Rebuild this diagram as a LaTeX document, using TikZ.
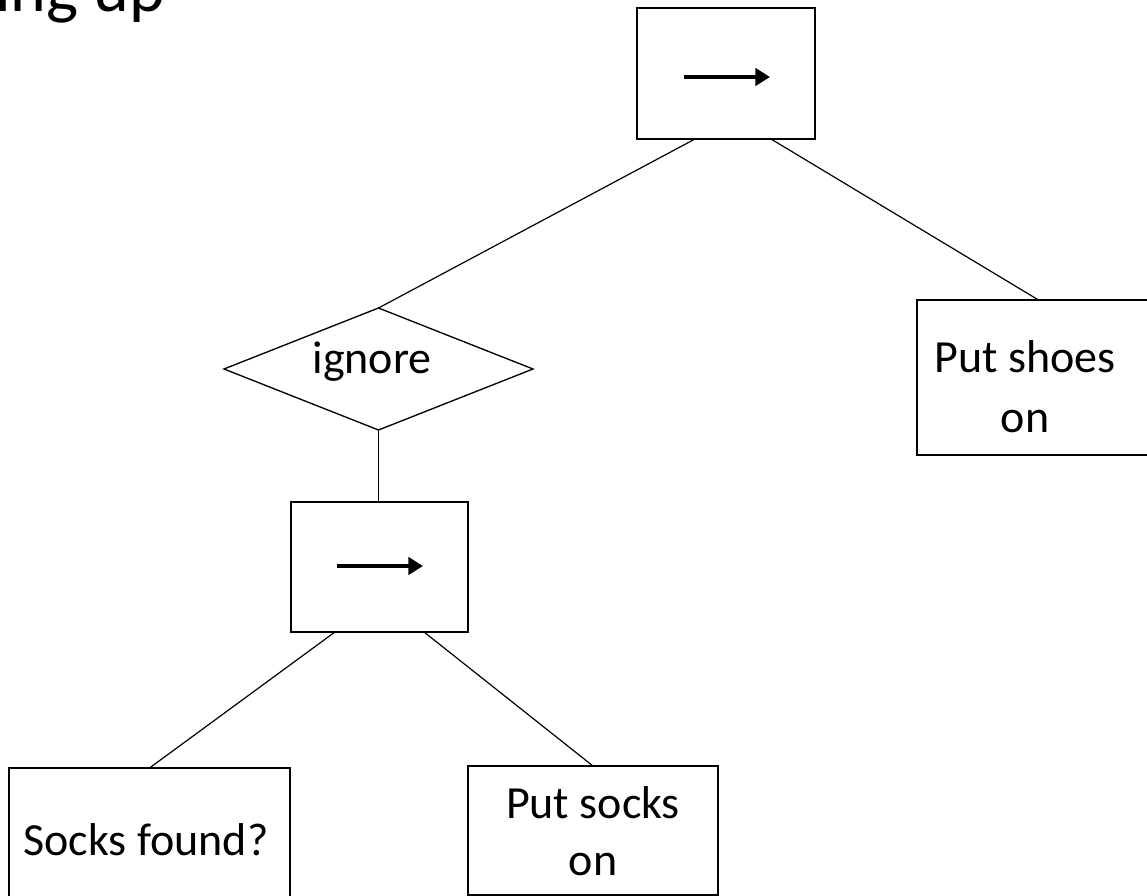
\documentclass[tikz,border=0pt]{standalone}
\usepackage{fontspec}
\setmainfont{Carlito}
\usetikzlibrary{shapes.geometric,arrows.meta}

\begin{document}
\begin{tikzpicture}[x=0.75pt,y=-0.75pt,
  seqbox/.style={draw, line width=1pt, outer sep=0pt, inner sep=0pt},
  decision/.style={draw, shape=diamond, line width=1pt, outer sep=0pt, inner sep=0pt,
    minimum width=231.75pt, minimum height=91.5pt},
  wire/.style={line width=0.9pt},
  seqarrow/.style={line width=3pt, -{Triangle[length=11pt,width=13pt]}},
  lbl/.style={inner sep=0pt, anchor=base, font=\fontsize{34.5pt}{42.75pt}\selectfont},
]
\useasboundingbox (0,0) rectangle (1147,896);

% title, running off the top-left corner
\node[inner sep=0pt, anchor=base west, font=\fontsize{51pt}{60pt}\selectfont]
  (title) at (-5,11) {ing up};

% boxes of the tree
\node[seqbox, minimum width=133.5pt, minimum height=98.25pt] (top) at (726,73.5) {};
\node[decision] (ign) at (378.5,369) {};
\node[seqbox, minimum width=182.25pt, minimum height=116.25pt] (shoes) at (1038.5,377.5) {};
\node[seqbox, minimum width=132.75pt, minimum height=97.5pt] (seq) at (379.5,567) {};
\node[seqbox, minimum width=210.75pt, minimum height=114pt] (found) at (149.5,844) {};
\node[seqbox, minimum width=187.5pt, minimum height=96.75pt] (socks) at (593,830.5) {};

% sequence arrows
\coordinate (a1) at ([shift={(-42,3.5)}]top.center);
\coordinate (a2) at ([shift={(44,3.5)}]top.center);
\draw[seqarrow] (a1) -- (a2);
\coordinate (b1) at ([shift={(-42.5,-1)}]seq.center);
\coordinate (b2) at ([shift={(43.5,-1)}]seq.center);
\draw[seqarrow] (b1) -- (b2);

% labels
\node[lbl] (tign) at (372,373) {ignore};
\node[lbl] (tshoes) at (1025,372) {\begin{tabular}[t]{@{}c@{}}Put shoes\\[2.25pt] on\end{tabular}};
\node[lbl] (tfound) at (146,855) {Socks found?};
\node[lbl] (tsocks) at (593,818) {\begin{tabular}[t]{@{}c@{}}Put socks\\ on\end{tabular}};

% connectors
\draw[wire] ([xshift=-23.25pt]top.south) -- (ign.north);
\draw[wire] ([xshift=33.75pt]top.south) -- (shoes.north);
\draw[wire] (ign.south) -- (ign.south |- seq.north);
\draw[wire] ([xshift=-33.4pt]seq.south) -- (found.north);
\draw[wire] ([xshift=33.4pt]seq.south) -- (socks.north);
\end{tikzpicture}
\end{document}
